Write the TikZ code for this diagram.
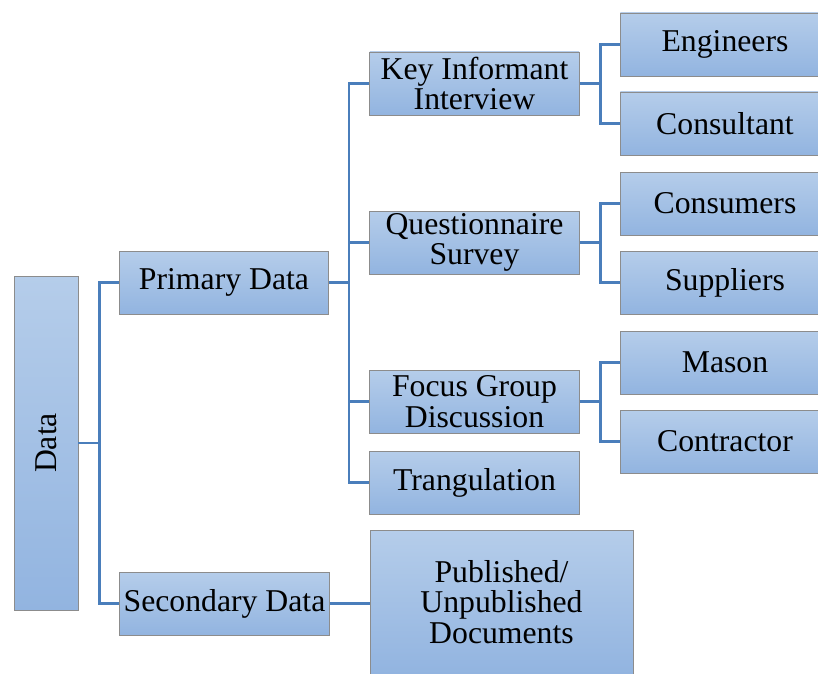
\documentclass[tikz,border=0pt]{standalone}
\usepackage{fontspec}
\setmainfont{Liberation Serif}
\definecolor{boxtop}{HTML}{B5CDEA}
\definecolor{boxbot}{HTML}{92B4E0}
\definecolor{linkblue}{HTML}{4A7EBB}
\tikzset{
  box/.style={draw=black!45, line width=0.6pt, top color=boxtop, bottom color=boxbot,
    minimum width=157pt, minimum height=47.25pt, inner sep=0pt, align=center,
    font=\fontsize{23.8}{23}\selectfont},
  link/.style={draw=linkblue, line width=1.8pt}
}
\begin{document}
\begin{tikzpicture}[x=0.75pt,y=-0.75pt]
  \clip (0,0) rectangle (818,674);
  % first level
  \node[box, minimum width=48pt, minimum height=250.5pt] (data) at (46,443) {\rotatebox{90}{Data}};
  \node[box] (prim) at (224,282.5) {Primary Data};
  \node[box] (sec) at (224.5,603.5) {Secondary Data};
  % methods
  \node[box] (key) at (474.5,83.5) {Key Informant\\Interview};
  \node[box] (que) at (474.5,242.5) {Questionnaire\\Survey};
  \node[box] (foc) at (474.5,401.5) {Focus Group\\Discussion};
  \node[box] (trg) at (474.5,482.5) {Trangulation};
  \node[box, minimum width=197.25pt, minimum height=108pt] (pub) at (501.5,602) {Published/\\Unpublished\\Documents};
  % respondents
  \node[box] (eng) at (725,44.5) {Engineers};
  \node[box] (con) at (725,123.5) {Consultant};
  \node[box] (cms) at (725,203.5) {Consumers};
  \node[box] (sup) at (725,282.5) {Suppliers};
  \node[box] (mas) at (725,362.5) {Mason};
  \node[box] (ctr) at (725,441.5) {Contractor};
  % connectors
  \draw[link] (data.east) -- ++(21,0) coordinate (dj);
  \draw[link] (prim.west) -| (dj) |- (sec.west);
  \draw[link] (prim.east) -- ++(20,0) coordinate (pj);
  \draw[link] (key.west) -| (pj) |- (trg.west);
  \draw[link] (pj) |- (que.west);
  \draw[link] (pj) |- (foc.west);
  \draw[link] (sec.east) -- (sec.east -| pub.west);
  \draw[link] (key.east) -- ++(21,0) coordinate (kj);
  \draw[link] (eng.west) -| (kj) |- (con.west);
  \draw[link] (que.east) -- ++(21,0) coordinate (qj);
  \draw[link] (cms.west) -| (qj) |- (sup.west);
  \draw[link] (foc.east) -- ++(21,0) coordinate (fj);
  \draw[link] (mas.west) -| (fj) |- (ctr.west);
\end{tikzpicture}
\end{document}
